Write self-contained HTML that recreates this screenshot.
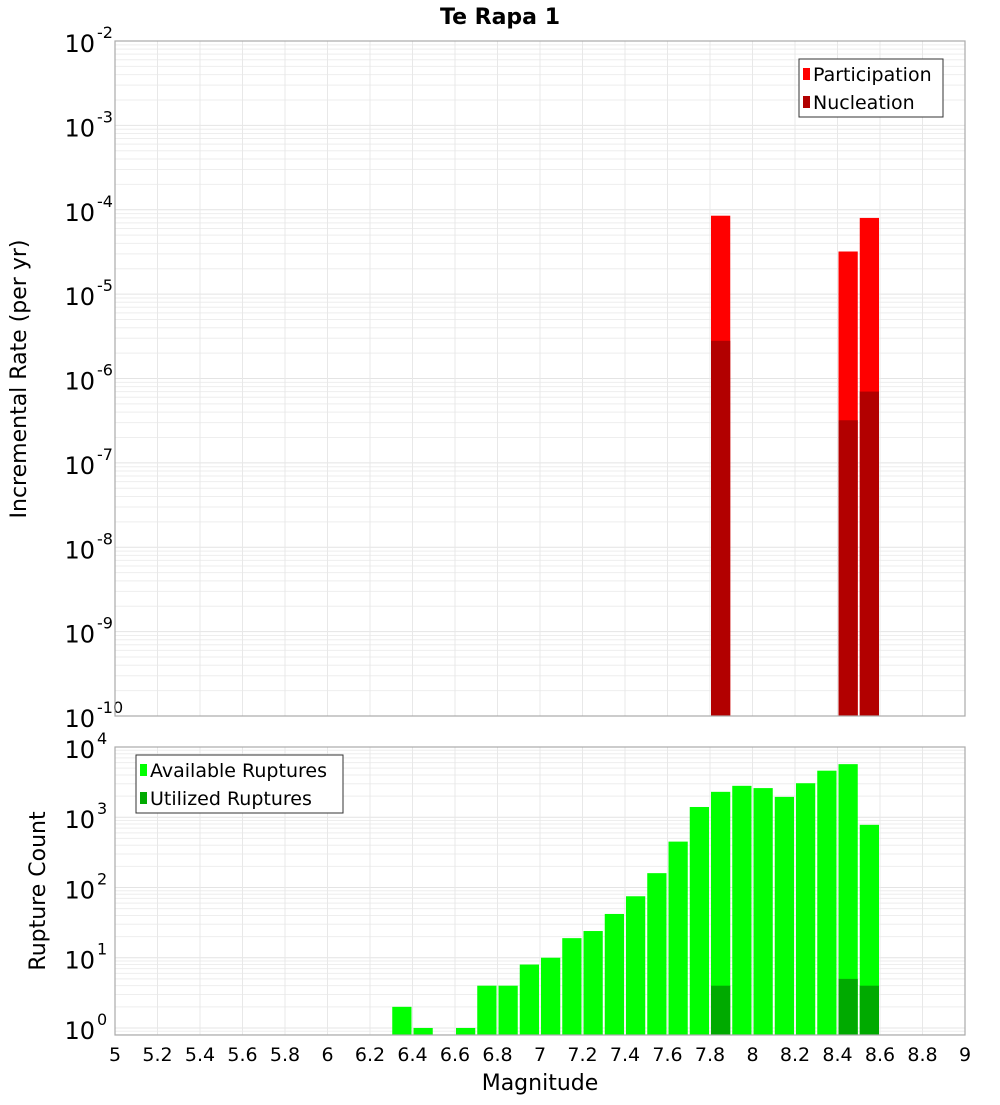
<!DOCTYPE html>
<html><head><meta charset="utf-8"><style>
body{margin:0;background:#fff;}
svg text{font-family:"DejaVu Sans","Liberation Sans",sans-serif;fill:#000;}
</style></head><body>
<svg id="chart" width="1000" height="1100" xmlns="http://www.w3.org/2000/svg">
<text x="500" y="24" text-anchor="middle" font-size="22" font-weight="bold">Te Rapa 1</text>
<g id="top"></g>
<g id="bot"></g>
<text transform="translate(26,379) rotate(-90)" text-anchor="middle" font-size="22">Incremental Rate (per yr)</text>
<text transform="translate(45,891) rotate(-90)" text-anchor="middle" font-size="22">Rupture Count</text>
<text x="540" y="1090" text-anchor="middle" font-size="22">Magnitude</text>
</svg>
<script>
const partMags=[7.8,8.4,8.5];
const partVals=[8.5e-5,3.2e-5,8e-5];
const nuclMags=[7.8,8.4,8.5];
const nuclVals=[2.8e-6,3.2e-7,7e-7];
const availMags=[6.3,6.4,6.6,6.7,6.8,6.9,7.0,7.1,7.2,7.3,7.4,7.5,7.6,7.7,7.8,7.9,8.0,8.1,8.2,8.3,8.4,8.5];
const availVals=[2,1,1,4,4,8,10,19,24,42,75,160,450,1400,2300,2800,2600,1950,3050,4600,5700,780];
const usedMags=[7.8,8.4,8.5];
const usedVals=[4,5,4];
const xTicks=["5","5.2","5.4","5.6","5.8","6","6.2","6.4","6.6","6.8","7","7.2","7.4","7.6","7.8","8","8.2","8.4","8.6","8.8","9"];

const NS="http://www.w3.org/2000/svg";
const L=115,R=965;
const xs=m=>L+(m-5)/4*(R-L);
function mk(p,t,a){const e=document.createElementNS(NS,t);for(const k in a)e.setAttribute(k,a[k]);p.appendChild(e);return e;}

function panel(g,top,bot,lmin,lmax,decades,expFont){
  const ys=v=>bot-(Math.log10(v)-lmin)/(lmax-lmin)*(bot-top);
  // grid
  for(let d=Math.floor(lmin);d<=Math.ceil(lmax);d++){
    for(let k=1;k<10;k++){
      const v=k*Math.pow(10,d);const lv=Math.log10(v);
      if(lv<lmin-1e-9||lv>lmax+1e-9)continue;
      const y=ys(v);
      const l=mk(g,'line',{x1:L,x2:R,y1:y,y2:y,stroke:k==1?'#e4e4e4':'#eeeeee','stroke-width':1});
      
      
    }
  }
  xTicks.forEach(t=>{
    const x=xs(parseFloat(t));
    const l=mk(g,'line',{x1:x,x2:x,y1:top,y2:bot,stroke:'#e8e8e8','stroke-width':1});
    
    
  });
  decades.forEach(d=>{
    const y=ys(Math.pow(10,d));
    const t=mk(g,'text',{x:L-20,y:y+11,'text-anchor':'end','font-size':24});
    
    
    t.textContent='10';
    const s=mk(g,'text',{x:L-18,y:y-3,'font-size':16});
    
    
    s.textContent=String(d);
  });
  return ys;
}
function bars(g,ys,bot,mags,vals,color,name){
  mags.forEach((m,i)=>{
    const x0=xs(m)+1,x1=xs(m+0.1)-1;const y=ys(vals[i]);
    const r=mk(g,'rect',{x:x0,y:y,width:x1-x0,height:bot-y,fill:color});
    
    
  });
}
function legend(g,x,y,w,h,items){
  const b=mk(g,'rect',{x:x,y:y,width:w,height:h,fill:'#fff',stroke:'#333','stroke-width':1});
  
  
  items.forEach((it,i)=>{
    const yy=y+15+i*28;
    const s=mk(g,'rect',{x:x+4,y:yy-6,width:7,height:12,fill:it[1]});
    
    
    const t=mk(g,'text',{x:x+14,y:yy+7,'font-size':19});
    
    
    t.textContent=it[0];
  });
}
// top
const gt=document.getElementById('top');
const yt=panel(gt,41,716,-10,-2,[-2,-3,-4,-5,-6,-7,-8,-9,-10]);
bars(gt,yt,716,partMags,partVals,'#ff0000','participation-bar');
bars(gt,yt,716,nuclMags,nuclVals,'#b20000','nucleation-bar');
const bt=mk(gt,'rect',{x:L,y:41,width:R-L,height:675,fill:'none',stroke:'#aaa','stroke-width':1.2});


legend(gt,799,59,144,58,[['Participation','#ff0000'],['Nucleation','#b20000']]);
// bottom
const gb=document.getElementById('bot');
const yb=panel(gb,747,1035,-0.1,4.0,[4,3,2,1,0]);
bars(gb,yb,1035,availMags,availVals,'#00ff00','available-bar');
bars(gb,yb,1035,usedMags,usedVals,'#00aa00','utilized-bar');
const bb=mk(gb,'rect',{x:L,y:747,width:R-L,height:288,fill:'none',stroke:'#aaa','stroke-width':1.2});


legend(gb,136,755,207,58,[['Available Ruptures','#00ff00'],['Utilized Ruptures','#00aa00']]);
xTicks.forEach(t=>{
  const e=mk(gb,'text',{x:xs(parseFloat(t)),y:1061,'text-anchor':'middle','font-size':19});
  
  
  e.textContent=t;
});
</script>
</body></html>
